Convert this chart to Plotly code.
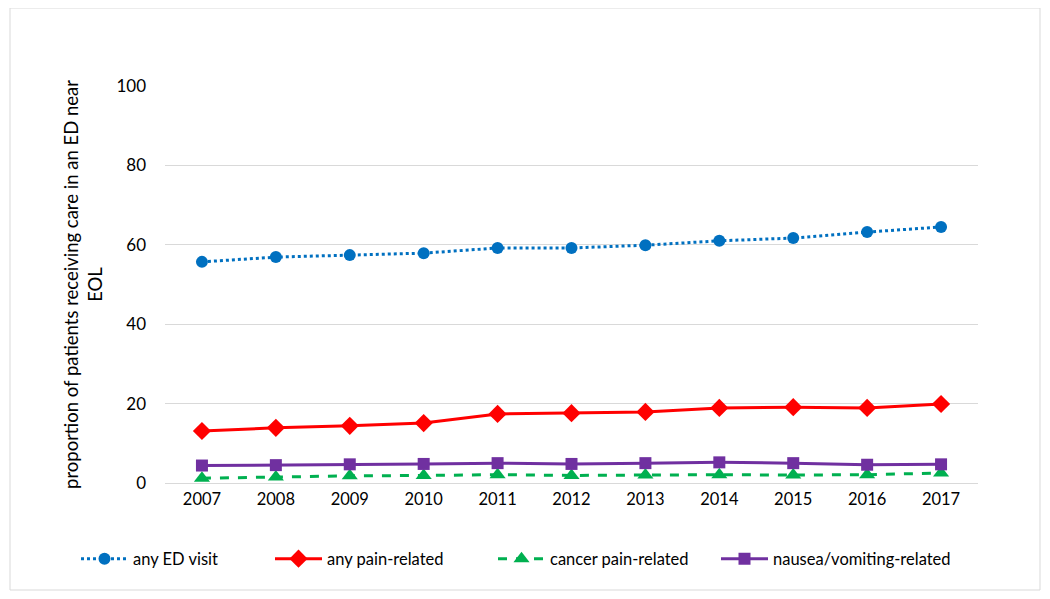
import plotly.graph_objects as go

years = ["2007", "2008", "2009", "2010", "2011", "2012", "2013", "2014", "2015", "2016", "2017"]
any_ed = [55.7, 56.9, 57.4, 57.9, 59.2, 59.2, 59.9, 61.0, 61.7, 63.2, 64.5]
any_pain = [13.1, 13.9, 14.4, 15.1, 17.4, 17.6, 17.9, 18.9, 19.1, 18.9, 19.9]
cancer_pain = [1.2, 1.5, 1.8, 1.9, 2.1, 1.9, 2.0, 2.1, 2.0, 2.1, 2.5]
nausea = [4.4, 4.5, 4.7, 4.8, 5.0, 4.8, 5.0, 5.2, 5.0, 4.6, 4.7]

series = [
    ("any ED visit", any_ed, "#0070C0", "dot", "circle", 12),
    ("any pain-related", any_pain, "#FF0000", "solid", "diamond", 14),
    ("cancer pain-related", cancer_pain, "#00B050", "dash", "triangle-up", 14),
    ("nausea/vomiting-related", nausea, "#7030A0", "solid", "square", 12),
]

OFF = 8  # page body offset
W, H = 1050, 599
ml, mt = 165 - OFF, 86 - OFF
mr = W - (978 - OFF)
mb = H - (483 - OFF)
pw = W - ml - mr
ph = H - mt - mb

legend_px = [76, 270, 493, 716]
legend_y = 559

fig = go.Figure()
layout_legends = {}
for i, (name, vals, col, dash, sym, ms) in enumerate(series):
    lg = "legend" if i == 0 else f"legend{i+1}"
    fig.add_trace(go.Scatter(
        x=years, y=vals, name=name, mode="lines+markers",
        line=dict(color=col, width=3, dash=dash),
        marker=dict(symbol=sym, size=ms, color=col),
        legend=lg,
    ))
    layout_legends[lg] = dict(
        x=(legend_px[i] - OFF - ml) / pw, y=-((legend_y - OFF) - (mt + ph)) / ph,
        xanchor="left", yanchor="middle", orientation="h",
        font=dict(family="Lato, Open Sans, sans-serif", size=16.5, color="#000000"),
        bgcolor="rgba(0,0,0,0)", itemwidth=47,
    )

fig.update_layout(
    width=W, height=H,
    margin=dict(l=ml, r=mr, t=mt, b=mb),
    paper_bgcolor="white", plot_bgcolor="white",
    font=dict(family="Lato, Open Sans, sans-serif", size=16, color="#000000"),
    showlegend=True,
    xaxis=dict(type="category", range=[-0.5, 10.5], showgrid=False, ticks="",
               showline=False, zeroline=False, tickfont=dict(size=16.5),
               ticklabelstandoff=4),
    yaxis=dict(range=[0, 100], dtick=20, showgrid=True, gridcolor="#d9d9d9",
               gridwidth=1, zeroline=True, zerolinecolor="#d9d9d9", zerolinewidth=1,
               showline=False, ticks="", tickfont=dict(size=17),
               ticklabelstandoff=18,
               title=dict(text="proportion of patients receiving care in an ED near<br>EOL",
                          font=dict(size=18.5), standoff=8)),
    **layout_legends,
)

fig.add_shape(type="rect", xref="paper", yref="paper",
              x0=(10 - OFF - ml) / pw, x1=(1040 - OFF - ml) / pw,
              y0=(H - mb - (590 - OFF)) / ph, y1=(H - mb - (8 - OFF)) / ph,
              line=dict(color="#d9d9d9", width=1), fillcolor="rgba(0,0,0,0)", layer="below")

fig.write_html("out.html")
